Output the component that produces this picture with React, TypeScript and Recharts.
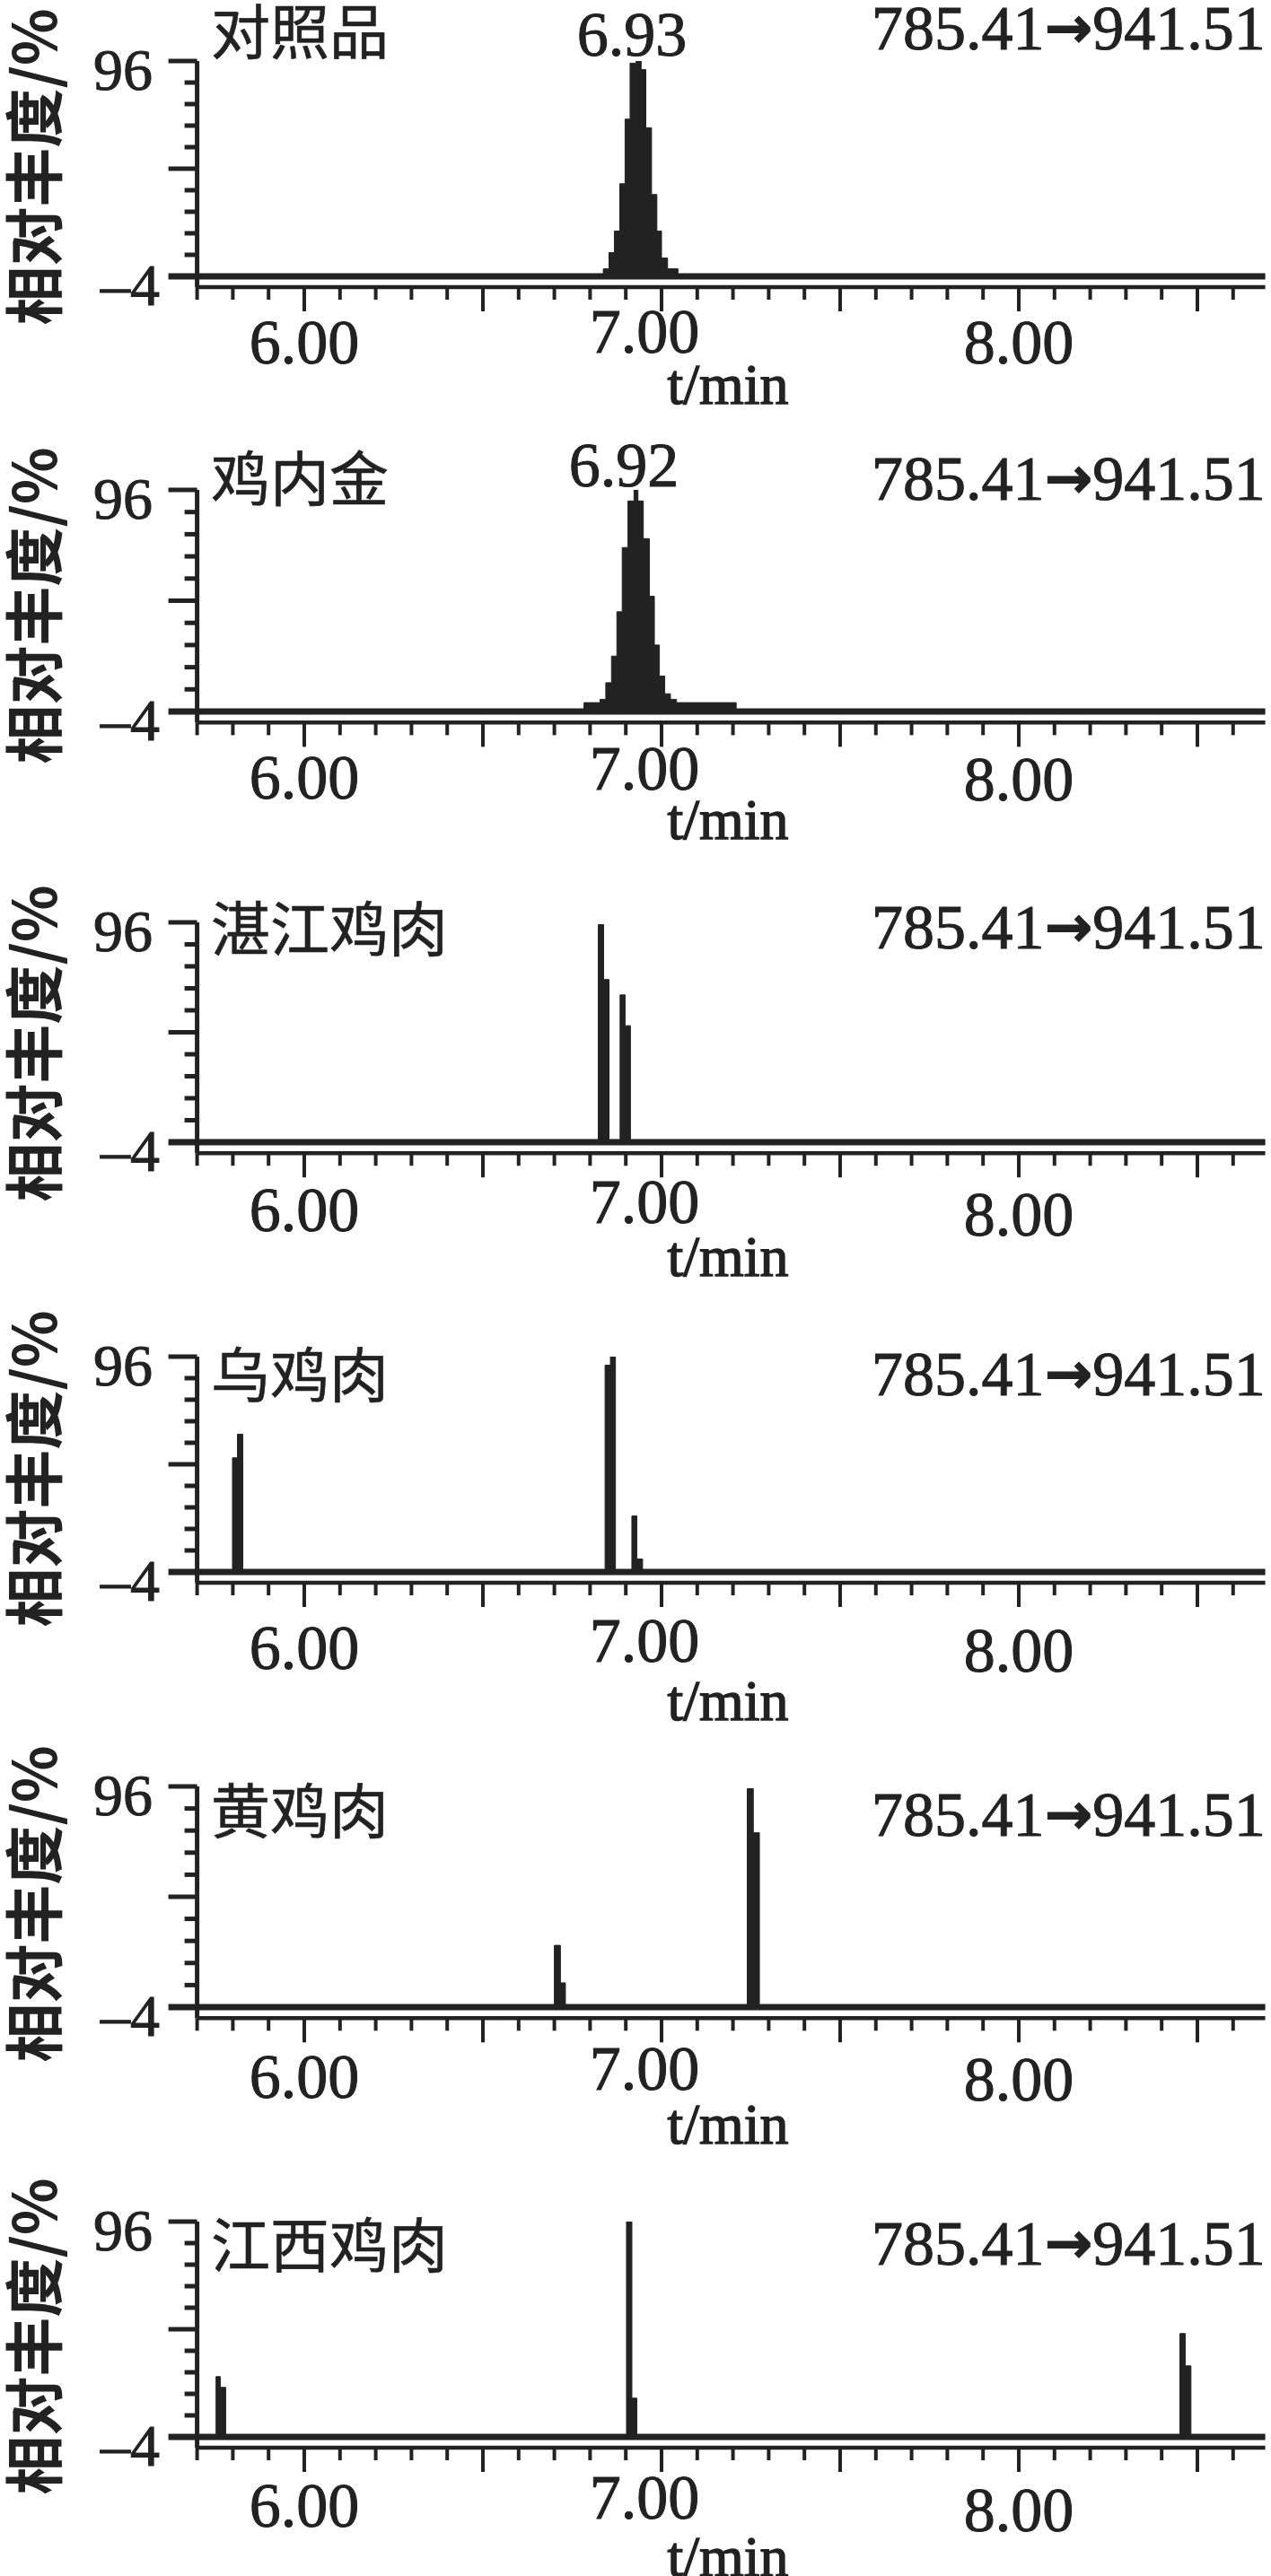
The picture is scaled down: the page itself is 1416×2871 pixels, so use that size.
import { ComposedChart, Area, XAxis, YAxis, ReferenceLine } from "recharts"

const INK = "#222"
const SERIF = "'Liberation Serif', 'Times New Roman', serif"
const CJK = "'Noto Sans CJK SC', 'Noto Sans', sans-serif"
const ARROW_FONT = "'DejaVu Sans', sans-serif"

// labels
const sampleNames = ["对照品", "鸡内金", "湛江鸡肉", "乌鸡肉", "黄鸡肉", "江西鸡肉"]
const ionFrom = "785.41"
const ionArrow = "→"
const ionTo = "941.51"
const peakLabels = ["6.93", "6.92", "", "", "", ""]
const yTitle = "相对丰度/%"
const xTitle = "t/min"

// axis ticks
const xTicks = [
  5.7, 5.8, 5.9, 6.0, 6.1, 6.2, 6.3, 6.4, 6.5, 6.6, 6.7, 6.8, 6.9, 7.0, 7.1,
  7.2, 7.3, 7.4, 7.5, 7.6, 7.7, 7.8, 7.9, 8.0, 8.1, 8.2, 8.3, 8.4, 8.5, 8.6,
]
const xLabelValues = [6, 7, 8]
const xLabelText = ["6.00", "7.00", "8.00"]
const yTicks = [-4, 6, 16, 26, 36, 46, 56, 66, 76, 86, 96]
const yLabelValues = [96, -4]
const yLabelText = ["96", "–4"]

// traces: [t/min, relative abundance], each point holds until the next (stepAfter)
const traceStandard: [number, number][] = [
  [5.7, -4], [6.837, -0.5], [6.853, 7], [6.868, 17], [6.883, 39], [6.898, 69],
  [6.912, 95], [6.929, 96], [6.943, 92], [6.956, 65], [6.972, 34], [6.987, 17],
  [7.0, 4.5], [7.017, -0.5], [7.046, -4], [8.69, -4],
]
const traceJiNeiJin: [number, number][] = [
  [5.7, -4], [6.783, 0], [6.828, 1.5], [6.844, 9], [6.86, 21], [6.875, 41],
  [6.89, 70], [6.906, 91], [6.923, 96], [6.934, 91], [6.949, 74], [6.966, 48],
  [6.98, 26], [6.994, 12], [7.009, 4], [7.025, 1.5], [7.042, 0], [7.209, -4],
  [8.69, -4],
]
const traceZhanjiang: [number, number][] = [
  [5.7, -4], [6.823, 95], [6.838, 70], [6.853, -4], [6.884, 63], [6.898, 49],
  [6.913, -4], [8.69, -4],
]
const traceWuji: [number, number][] = [
  [5.7, -4], [5.799, 49], [5.813, 60], [5.828, -4], [6.842, 92], [6.857, 96],
  [6.871, -4], [6.917, 22], [6.931, 2], [6.947, -4], [8.69, -4],
]
const traceHuangji: [number, number][] = [
  [5.7, -4], [6.7, 24], [6.717, 7], [6.731, -4], [7.24, 95], [7.257, 75],
  [7.274, -4], [8.69, -4],
]
const traceJiangxi: [number, number][] = [
  [5.7, -4], [5.753, 24], [5.765, 19], [5.78, -4], [6.902, 96], [6.917, 14],
  [6.931, -4], [8.451, 44], [8.466, 29], [8.482, -4], [8.69, -4],
]
const traces = [traceStandard, traceJiNeiJin, traceZhanjiang, traceWuji, traceHuangji, traceJiangxi]

// page layout of each panel (pixels)
const layout = [
  { y96: 68, yBase: 308, titleCy: 35, ionBase: 55, peakX: 704, peakBase: 62, xLabelDy: [97, 85, 97], unitDy: 142, yTitleDy: -122 },
  { y96: 546, yBase: 793, titleCy: 533, ionBase: 557, peakX: 695, peakBase: 542, xLabelDy: [97, 87, 99], unitDy: 142, yTitleDy: -118 },
  { y96: 1028, yBase: 1273, titleCy: 1035, ionBase: 1057, peakX: 0, peakBase: 0, xLabelDy: [99, 90, 104], unitDy: 149, yTitleDy: -110 },
  { y96: 1512, yBase: 1752, titleCy: 1532, ionBase: 1555, peakX: 0, peakBase: 0, xLabelDy: [108, 100, 111], unitDy: 165, yTitleDy: -115 },
  { y96: 1991, yBase: 2237, titleCy: 2018, ionBase: 2046, peakX: 0, peakBase: 0, xLabelDy: [101, 92, 104], unitDy: 152, yTitleDy: -115 },
  { y96: 2476, yBase: 2716, titleCy: 2502, ionBase: 2524, peakX: 0, peakBase: 0, xLabelDy: [100, 91, 105], unitDy: 155, yTitleDy: -112 },
]

const PAGE_W = 1416
const PAGE_H = 2871
const PLOT_LEFT = 219.6
const PLOT_RIGHT = 1409.6
const PLOT_TOP = 70
const X_DOMAIN: [number, number] = [5.7, 8.69]
const Y_MIN = -9

type Cfg = (typeof layout)[number]

const isHalf = (v: number) => Math.abs(v * 2 - Math.round(v * 2)) < 1e-6

function XTick(props: any) {
  const { x, y, payload, unit, cfg } = props
  const v = payload.value as number
  const len = isHalf(v) ? 27 : 14
  const idx = xLabelValues.findIndex((lv) => Math.abs(lv - v) < 1e-6)
  const base = y - 5 * unit
  return (
    <g>
      <line x1={x} x2={x} y1={y} y2={y + len} stroke={INK} strokeWidth={4} />
      {idx >= 0 && (
        <text
          x={x + (idx === 1 ? -19 : 0)}
          y={base + cfg.xLabelDy[idx]}
          textAnchor="middle"
          fontFamily={SERIF}
          fontSize={70}
          fill={INK}
          stroke={INK}
          strokeWidth={1}
        >
          {xLabelText[idx]}
        </text>
      )}
    </g>
  )
}

function YTick(props: any) {
  const { x, y, payload } = props
  const v = payload.value as number
  const long = v === 96 || v === 46 || v === -4
  const len = long ? 32 : 14
  const idx = yLabelValues.indexOf(v)
  return (
    <g>
      <line x1={x - len} x2={x} y1={y} y2={y} stroke={INK} strokeWidth={v === -4 ? 7 : 5} />
      {idx >= 0 && (
        <text
          x={x - (v === 96 ? 49.6 : 41.6)}
          y={y + 32}
          textAnchor="end"
          fontFamily={SERIF}
          fontSize={66}
          fill={INK}
          stroke={INK}
          strokeWidth={1}
        >
          {yLabelText[idx]}
        </text>
      )}
    </g>
  )
}

function Panel({ i }: { i: number }) {
  const cfg: Cfg = layout[i]
  const unit = (cfg.yBase - cfg.y96) / 100
  const plotH = unit * (96 - Y_MIN)
  const xAxisH = 200
  const height = PLOT_TOP + plotH + xAxisH
  const data = traces[i].map(([t, v]) => ({ t, v }))

  return (
    <div style={{ position: "absolute", left: 0, top: cfg.y96 - PLOT_TOP }}>
      <ComposedChart
        width={PAGE_W}
        height={height}
        data={data}
        margin={{ top: PLOT_TOP, right: PAGE_W - PLOT_RIGHT, bottom: 0, left: 0 }}
      >
        <XAxis
          type="number"
          dataKey="t"
          domain={X_DOMAIN}
          allowDataOverflow
          ticks={xTicks}
          interval={0}
          height={xAxisH}
          tickSize={0}
          tickMargin={0}
          tickLine={false}
          axisLine={{ stroke: INK, strokeWidth: 4.5 }}
          tick={(p: any) => <XTick {...p} unit={unit} cfg={cfg} />}
        />
        <YAxis
          type="number"
          domain={[Y_MIN, 96]}
          allowDataOverflow
          ticks={yTicks}
          interval={0}
          width={PLOT_LEFT}
          tickSize={0}
          tickMargin={0}
          tickLine={false}
          axisLine={{ stroke: INK, strokeWidth: 5 }}
          tick={(p: any) => <YTick {...p} />}
        />
        <Area
          type="stepAfter"
          dataKey="v"
          baseValue={-4}
          stroke={INK}
          strokeWidth={1}
          fill={INK}
          fillOpacity={1}
          dot={false}
          activeDot={false}
          isAnimationActive={false}
        />
        <ReferenceLine y={-4} stroke={INK} strokeWidth={7} />
      </ComposedChart>
    </div>
  )
}

export default function App() {
  return (
    <div
      style={{
        position: "relative",
        width: PAGE_W,
        height: PAGE_H,
        overflow: "hidden",
        background: "#fff",
      }}
    >
      <style>{`body{margin:0;}`}</style>
      {layout.map((_, i) => (
        <Panel key={i} i={i} />
      ))}
      <svg
        width={PAGE_W}
        height={PAGE_H}
        style={{ position: "absolute", left: 0, top: 0, pointerEvents: "none" }}
      >
        {layout.map((cfg, i) => {
          const yc = cfg.yBase + cfg.yTitleDy
          return (
            <g key={i}>
              <text
                x={235}
                y={cfg.titleCy + 25}
                fontFamily={CJK}
                fontSize={66}
                fill={INK}
                stroke={INK}
                strokeWidth={0.6}
              >
                {sampleNames[i]}
              </text>
              <text
                x={971}
                y={cfg.ionBase}
                fontFamily={SERIF}
                fontSize={70}
                fill={INK}
                stroke={INK}
                strokeWidth={1}
              >
                {ionFrom}
                <tspan fontFamily={ARROW_FONT} fontWeight={700} fontSize={64} dy={-2}>
                  {ionArrow}
                </tspan>
                <tspan dy={2}>{ionTo}</tspan>
              </text>
              {peakLabels[i] && (
                <text
                  x={cfg.peakX}
                  y={cfg.peakBase}
                  textAnchor="middle"
                  fontFamily={SERIF}
                  fontSize={70}
                  fill={INK}
                  stroke={INK}
                  strokeWidth={1}
                >
                  {peakLabels[i]}
                </text>
              )}
              <text
                x={811}
                y={cfg.yBase + cfg.unitDy}
                textAnchor="middle"
                fontFamily={SERIF}
                fontSize={64}
                fill={INK}
                stroke={INK}
                strokeWidth={1.4}
              >
                {xTitle}
              </text>
              <text
                x={62.5}
                y={yc}
                transform={`rotate(-90, 62.5, ${yc})`}
                textAnchor="middle"
                fontFamily={CJK}
                fontWeight={700}
                fontSize={66}
                fill={INK}
              >
                {yTitle}
              </text>
            </g>
          )
        })}
      </svg>
    </div>
  )
}
